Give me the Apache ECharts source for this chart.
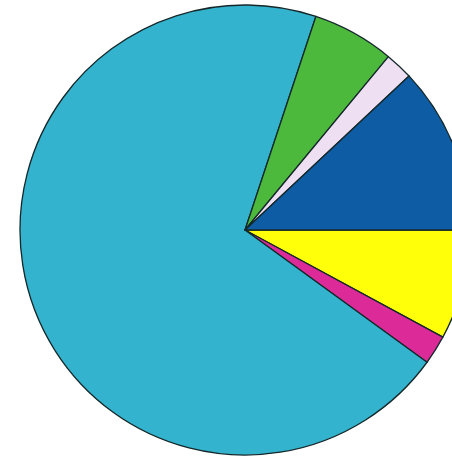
<!DOCTYPE html>
<html>
<head>
<meta charset="utf-8">
<script src="https://cdn.jsdelivr.net/npm/echarts@6/dist/echarts.min.js"></script>
<style>
html,body{margin:0;padding:0;background:#fff;}
#chart{width:452px;height:456px;}
</style>
</head>
<body>
<div id="chart"></div>
<script>
// Slices in clockwise order starting at 3 o'clock
const categories = ["Yellow", "Magenta", "Cyan", "Green", "Pink", "Blue"];
const values = [7.9, 2.1, 70.1, 5.9, 2.0, 12.0];
const colors = ["#ffff0a", "#dc2b98", "#34b3ce", "#4cb93c", "#efdff3", "#0d5ca4"];

const chart = echarts.init(document.getElementById('chart'));
chart.setOption({
  animation: false,
  backgroundColor: '#ffffff',
  series: [{
    type: 'pie',
    center: [245, 230],
    radius: [0, 225],
    startAngle: 0,
    clockwise: true,
    label: { show: false },
    labelLine: { show: false },
    emphasis: { disabled: true },
    itemStyle: { borderColor: '#14282a', borderWidth: 1.3 },
    data: categories.map((c, i) => ({ name: c, value: values[i], itemStyle: { color: colors[i] } }))
  }]
});
</script>
</body>
</html>
